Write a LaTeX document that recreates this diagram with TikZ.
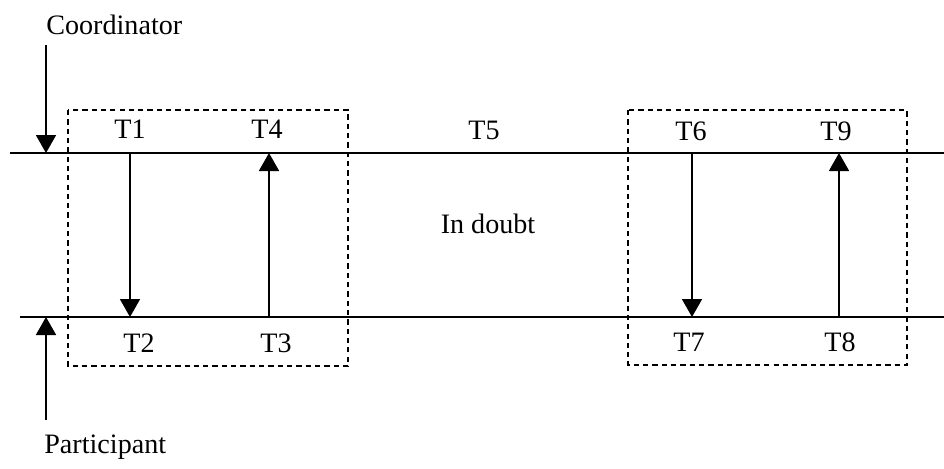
\documentclass[tikz,border=0pt]{standalone}
\usepackage{fontspec}
\setmainfont{Liberation Serif}
\usetikzlibrary{arrows.meta}

\begin{document}
\begin{tikzpicture}[
    x=0.2mm, y=-0.2mm,
    lbl/.style = {inner sep=0pt, font=\fontsize{16}{19}\selectfont},
    timeline/.style = {line width=1pt},
    phase/.style = {line width=0.8pt, dash pattern=on 3pt off 2.3pt},
    msg/.style = {line width=1pt, ->},
    >={Triangle[length=3.6mm, width=4mm]}]

    \useasboundingbox (0,0) rectangle (944,468);

    % the two time lines
    \coordinate (CL) at (10,153);
    \coordinate (CR) at (944,153);
    \coordinate (PL) at (20,317);
    \coordinate (PR) at (944,317);
    \draw[timeline] (CL) -- (CR);
    \draw[timeline] (PL) -- (PR);

    % phases
    \draw[phase] (68,110) rectangle (348,366);
    \draw[phase] (628,110) rectangle (907,365);

    \node[lbl, anchor=west] (coord) at (46,25) {Coordinator};
    \node[lbl, anchor=west] (part) at (44,447) {Participant};
    \coordinate (coordtail) at (46,45);
    \coordinate (coordhead) at (46,153);
    \coordinate (parttail) at (46,420);
    \coordinate (parthead) at (46,317);
    \draw[msg] (coordtail) -- (coordhead);
    \draw[msg] (parttail) -- (parthead);

    \node[lbl] (T1) at (130,129) {T1};
    \node[lbl] (T2) at (139,343) {T2};
    \node[lbl] (T3) at (276,343) {T3};
    \node[lbl] (T4) at (267,129) {T4};
    \node[lbl] (T5) at (484,130) {T5};
    \node[lbl] (doubt) at (488,224) {In doubt};
    \node[lbl] (T6) at (691,131) {T6};
    \node[lbl] (T7) at (689,342) {T7};
    \node[lbl] (T8) at (840,342) {T8};
    \node[lbl] (T9) at (836,131) {T9};

    \coordinate (a1) at (130,153);
    \coordinate (a2) at (130,317);
    \coordinate (a3) at (269,317);
    \coordinate (a4) at (269,153);
    \coordinate (a6) at (692,153);
    \coordinate (a7) at (692,317);
    \coordinate (a8) at (839,317);
    \coordinate (a9) at (839,153);

    \draw[msg] (a1) -- (a2);
    \draw[msg] (a3) -- (a4);
    \draw[msg] (a6) -- (a7);
    \draw[msg] (a8) -- (a9);

\end{tikzpicture}
\end{document}
